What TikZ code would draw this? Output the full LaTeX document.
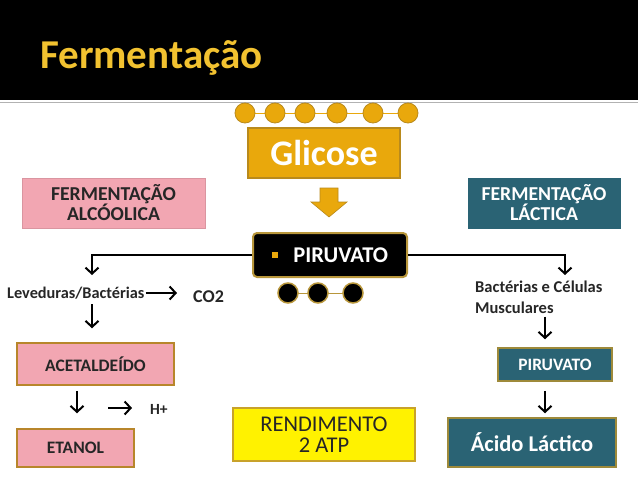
\documentclass[tikz,border=0pt]{standalone}
\usepackage{fontspec}
\setmainfont{Carlito}
\usetikzlibrary{arrows.meta,calc}
\definecolor{gold}{HTML}{E9A80C}
\definecolor{golddark}{HTML}{B98A1C}
\definecolor{titlegold}{HTML}{F2C230}
\definecolor{pinkbox}{HTML}{F2A6B2}
\definecolor{pinkedge}{HTML}{B8862B}
\definecolor{tealbox}{HTML}{2A6374}
\definecolor{tealedge}{HTML}{9E8A3A}
\definecolor{ringgold}{HTML}{B8963A}
\definecolor{yellowedge}{HTML}{C8A22A}
\tikzset{
  conn/.style={draw=black, line width=2pt, -{Straight Barb[length=6pt,width=13pt]}},
  plain/.style={inner sep=1pt, font=\bfseries\fontsize{16.3}{18}\selectfont, text=black!85},
  pinkstyle/.style={fill=pinkbox, draw=pinkedge, line width=1.5pt, inner sep=0pt, font=\bfseries\fontsize{17.5}{19}\selectfont, text=black!85},
  tealstyle/.style={fill=tealbox, draw=tealedge, line width=1.5pt, inner sep=0pt, text=white, font=\bfseries},
  goldball/.style={circle, fill=gold, draw=golddark, line width=0.8pt, minimum size=20pt, inner sep=0pt},
  blackball/.style={circle, fill=black, draw=ringgold, line width=1.5pt, minimum size=20pt, inner sep=0pt}
}
\begin{document}
\begin{tikzpicture}[x=1pt,y=-1pt]
\useasboundingbox (0,0) rectangle (638,479);
\fill[white] (0,0) rectangle (638,479);
% header
\fill[black] (0,0) rectangle (638,100);
\draw[black!30, line width=1.5pt] (0,102.5) -- (638,102.5);
\node[anchor=base west, inner sep=0pt, text=titlegold, font=\bfseries\fontsize{41}{44}\selectfont] (title) at (40,68) {Fermentação};

% gold balls
\draw[gold, line width=1pt] (245,113) -- (408,113);
\foreach \i/\x in {1/245,2/275,3/305,4/337,5/373,6/408}{
  \node[goldball] (g\i) at (\x,113) {};
}
% Glicose
\node[fill=gold, draw=golddark, line width=1.2pt, minimum width=152pt, minimum height=50pt, inner sep=0pt, text=white, font=\bfseries\fontsize{36}{38}\selectfont] (glic) at (324,153) {Glicose};
% block arrow
\fill[gold, draw=golddark, line width=0.6pt] (320,188) -- (338,188) -- (338,202) -- (347,202) -- (329,217) -- (311,202) -- (320,202) -- cycle;

% category boxes
\node[fill=pinkbox, draw=pinkbox!90!black, line width=0.6pt, minimum width=183pt, minimum height=50pt, inner sep=0pt, align=center, text=black!85, font=\bfseries\fontsize{19.7}{20}\selectfont] (alc) at (113.5,203) {FERMENTAÇÃO\\ALCÓOLICA};
\node[fill=tealbox, draw=tealbox, minimum width=152pt, minimum height=50pt, inner sep=0pt, align=center, text=white, font=\bfseries\fontsize{19.7}{20}\selectfont] (lac) at (544,203) {FERMENTAÇÃO\\LÁCTICA};

% piruvato center
\node[fill=black, draw=ringgold, line width=2pt, rounded corners=4pt, minimum width=154pt, minimum height=44pt, inner sep=0pt, text=white, font=\bfseries\fontsize{22.5}{24}\selectfont] (piru) at (330,255) {\raisebox{4pt}{\textcolor{gold}{\rule{6.5pt}{6.5pt}}}\hspace{15pt}PIRUVATO};

% black balls
\draw[ringgold, line width=1pt] (288,293) -- (353,293);
\foreach \i/\x in {1/288,2/318,3/353}{
  \node[blackball] (b\i) at (\x,293) {};
}

% left branch
\node[plain, anchor=west] (lev) at (6,293) {Leveduras/Bactérias};
\node[plain, anchor=west, font=\bfseries\fontsize{18}{20}\selectfont] (co2) at (192,297) {CO2};
\node[pinkstyle, minimum width=157pt, minimum height=42pt] (acet) at (95.5,364) {ACETALDEÍDO};
\node[pinkstyle, minimum width=117pt, minimum height=38pt] (etanol) at (75.5,448) {ETANOL};
\node[plain, anchor=west, font=\bfseries\fontsize{15.5}{17}\selectfont] (hplus) at (149,409) {H+};
\coordinate (lt) at (92,275);
\coordinate (hs) at (108,408);
\draw[conn] (piru.west) -| (lt);
\draw[conn, shorten >=15pt] (lev.east) -- (co2.west |- lev.east);
\draw[conn, shorten <=4pt, shorten >=14pt] (lev.south -| lt) -- (acet.north -| lt);
\draw[conn, shorten <=5pt, shorten >=15pt] (acet.south -| 77,0) -- (etanol.north -| 77,0);
\draw[conn, shorten >=17pt] (hs) -- (hplus.west |- hs);

% right branch
\coordinate (rt) at (565,275);
\draw[conn] (piru.east) -| (rt);
\node[plain, anchor=west, align=left, font=\bfseries\fontsize{16.5}{21}\selectfont] (bact) at (474,297) {Bactérias e Células\\Musculares};
\node[tealstyle, minimum width=114pt, minimum height=33pt, font=\bfseries\fontsize{17.4}{19}\selectfont] (piru2) at (555,364.5) {PIRUVATO};
\node[tealstyle, minimum width=168pt, minimum height=49pt, font=\bfseries\fontsize{22.5}{24}\selectfont] (acido) at (532,442.5) {Ácido Láctico};
\draw[conn, shorten <=2pt, shorten >=8pt] (bact.south -| 545,0) -- (piru2.north -| 545,0);
\draw[conn, shorten <=9pt, shorten >=4pt] (piru2.south -| 545,0) -- (acido.north -| 545,0);

% rendimento
\node[fill=yellow, draw=yellowedge, line width=1.5pt, minimum width=182pt, minimum height=53pt, inner sep=0pt, align=center, text=black!85, font=\fontsize{22.5}{21}\selectfont] (rend) at (324,434.5) {RENDIMENTO\\2 ATP};
\end{tikzpicture}
\end{document}
